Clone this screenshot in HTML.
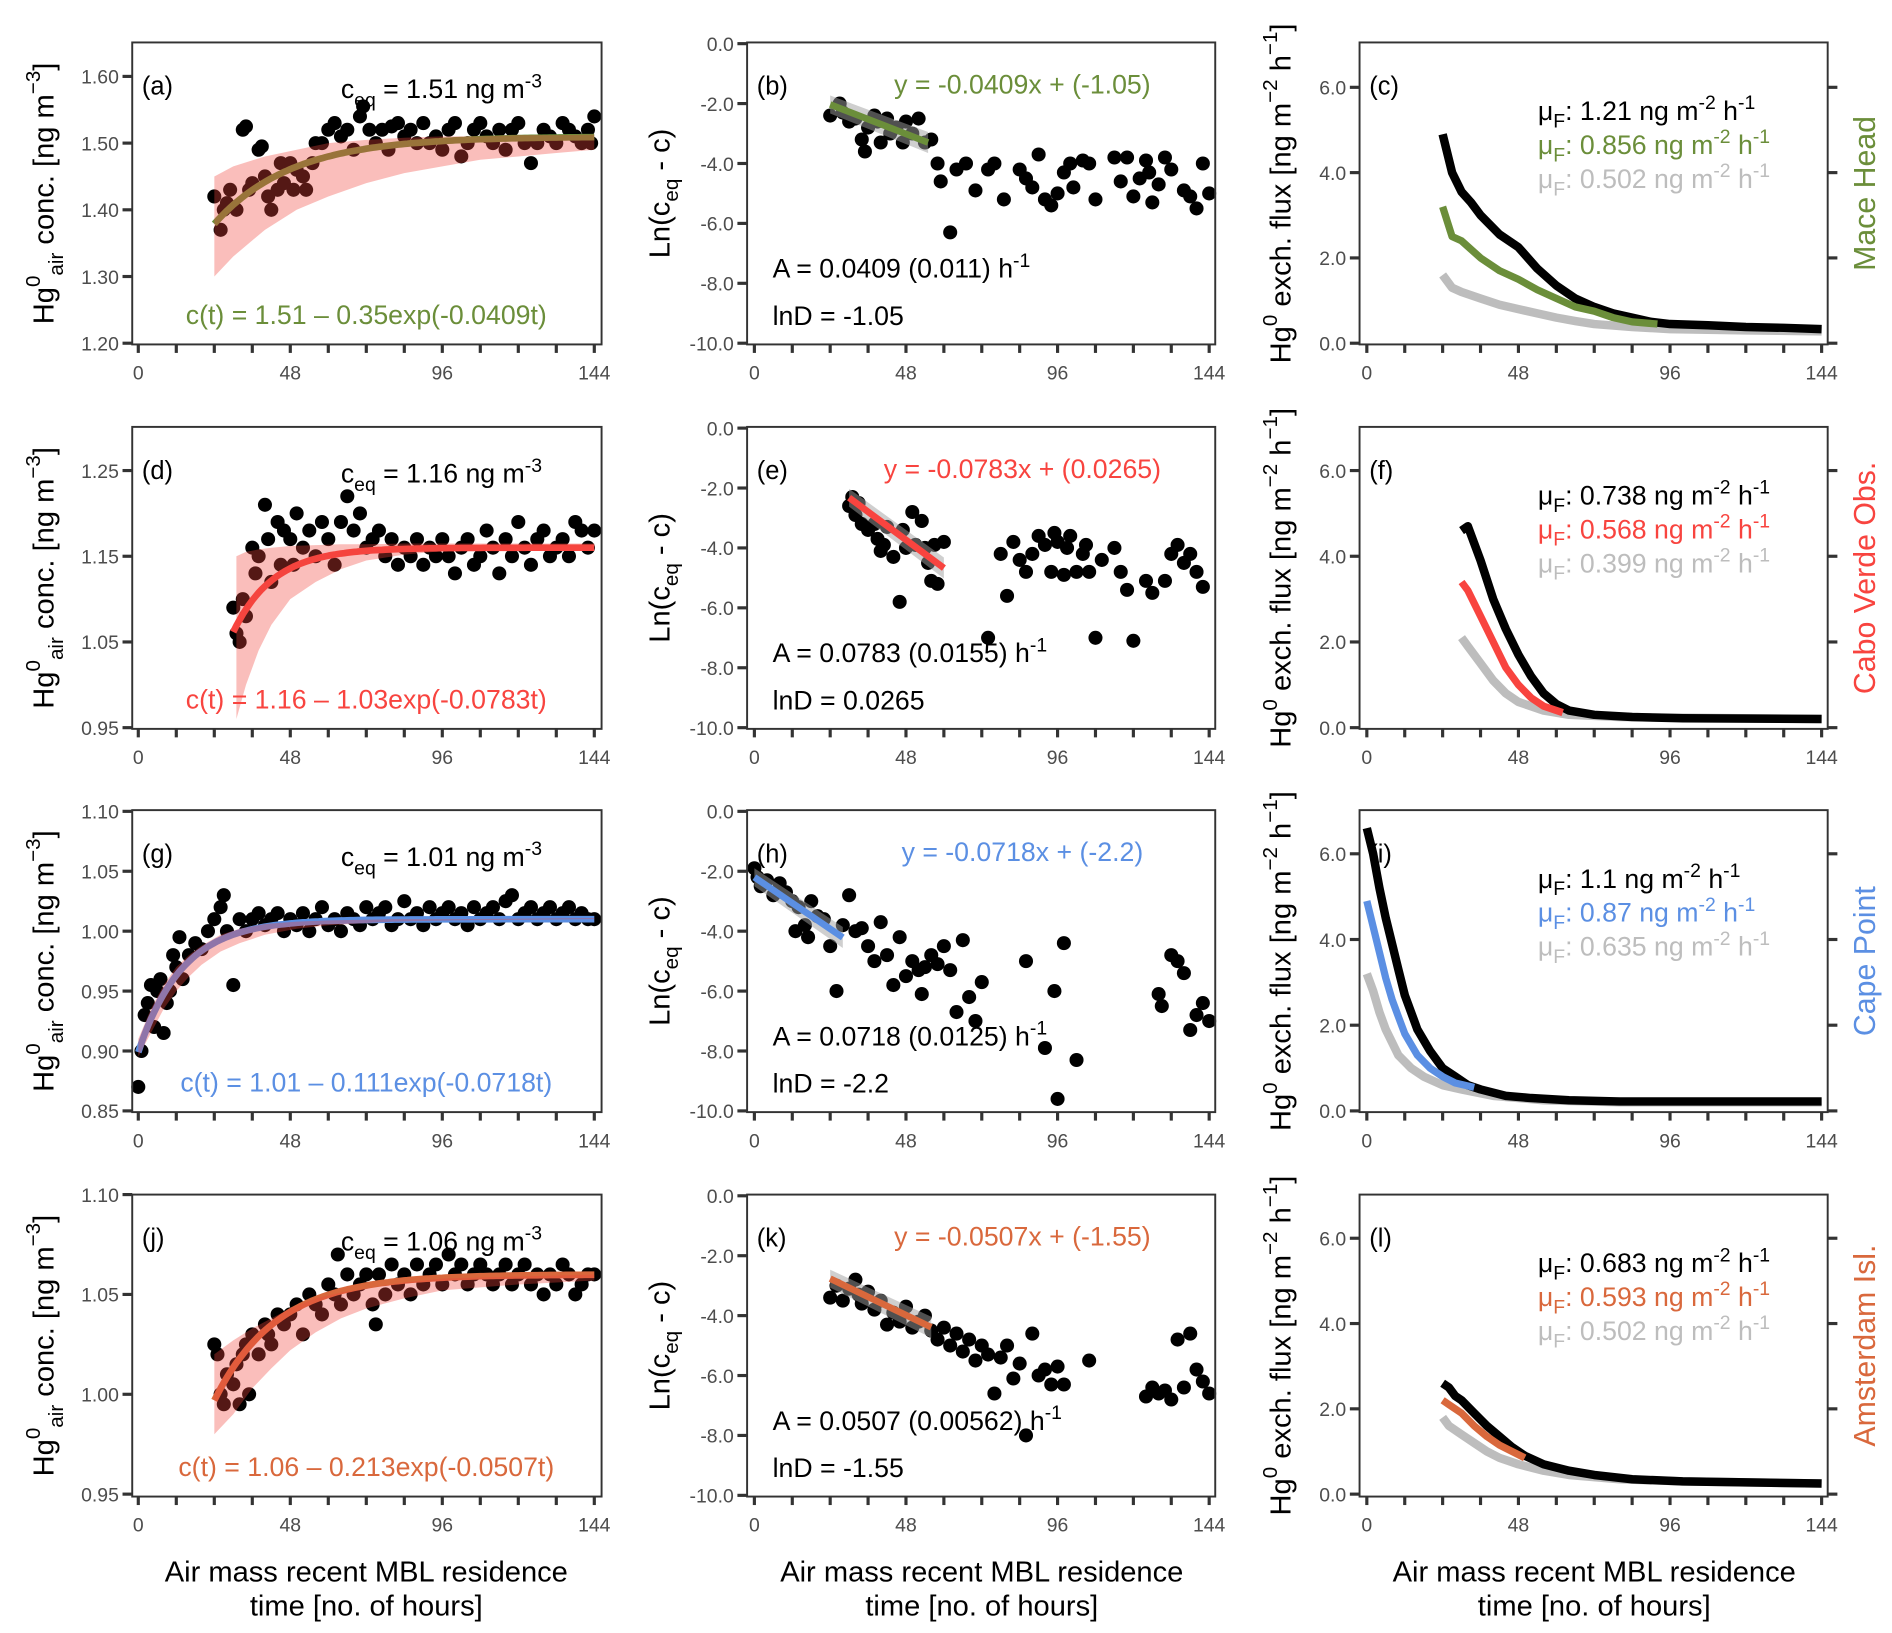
<!DOCTYPE html>
<html><head><meta charset="utf-8"><style>
html,body{margin:0;padding:0;background:#fff;}
svg{display:block;font-family:"Liberation Sans",Arial,sans-serif;}
</style></head><body>
<svg id="fig" xmlns="http://www.w3.org/2000/svg" width="1892" height="1633" viewBox="0 0 1560 1346.5"></svg>
<script>
// ---------- DATA ----------
const xTickLabels = [0,48,96,144];
const concTicks1 = [1.20,1.30,1.40,1.50,1.60];
const concTicks2 = [0.95,1.05,1.15,1.25];
const concTicks3 = [0.85,0.90,0.95,1.00,1.05,1.10];
const concTicks4 = [0.95,1.00,1.05,1.10];
const lnTicks = [0,-2,-4,-6,-8,-10];
const fluxTicks = [0,2,4,6];
const fitCeq = [1.51,1.16,1.01,1.06];
const fitB = [0.35,1.03,0.111,0.213];
const fitA = [0.0409,0.0783,0.0718,0.0507];
const fitLnD = [-1.05,0.0265,-2.2,-1.55];
const fitStart = [24,30,0,24];
const fitEnd = [55,60,28,56];
const siteNames = ["Mace Head","Cabo Verde Obs.","Cape Point","Amsterdam Isl."];

const ptsA = [[24,1.42],[26,1.37],[27,1.40],[28,1.41],[29,1.43],[31,1.40],[33,1.52],[34,1.525],[35,1.43],[36,1.44],[38,1.49],[39,1.495],[40,1.45],[41,1.42],[42,1.40],[44,1.43],[45,1.47],[46,1.44],[48,1.47],[49,1.43],[50,1.46],[52,1.45],[53,1.43],[55,1.47],[56,1.50],[58,1.50],[60,1.52],[62,1.53],[64,1.51],[66,1.52],[68,1.49],[70,1.54],[71,1.555],[73,1.52],[75,1.50],[77,1.52],[79,1.49],[80,1.525],[82,1.53],[84,1.51],[86,1.52],[88,1.50],[90,1.53],[92,1.50],[94,1.51],[96,1.49],[98,1.52],[100,1.53],[102,1.48],[104,1.50],[106,1.52],[108,1.53],[110,1.51],[112,1.50],[114,1.52],[116,1.49],[118,1.52],[120,1.53],[122,1.50],[124,1.47],[126,1.50],[128,1.52],[130,1.51],[132,1.50],[134,1.53],[136,1.52],[138,1.51],[140,1.50],[142,1.52],[144,1.54],[143,1.50]];
const ptsD = [[30,1.09],[31,1.06],[32,1.05],[33,1.10],[34,1.08],[36,1.16],[37,1.13],[38,1.15],[40,1.21],[41,1.17],[42,1.12],[44,1.19],[45,1.14],[46,1.18],[48,1.17],[49,1.14],[50,1.20],[52,1.16],[54,1.18],[56,1.15],[58,1.19],[60,1.17],[62,1.14],[64,1.19],[66,1.22],[68,1.18],[70,1.20],[72,1.16],[74,1.17],[76,1.18],[78,1.15],[80,1.17],[82,1.14],[84,1.16],[86,1.15],[88,1.17],[90,1.14],[92,1.16],[94,1.15],[96,1.17],[98,1.15],[100,1.13],[102,1.16],[104,1.17],[106,1.14],[108,1.15],[110,1.18],[112,1.16],[114,1.13],[116,1.17],[118,1.15],[120,1.19],[122,1.16],[124,1.14],[126,1.17],[128,1.18],[130,1.15],[132,1.16],[134,1.17],[136,1.15],[138,1.19],[140,1.18],[142,1.16],[144,1.18]];
const ptsG = [[0,0.87],[1,0.90],[2,0.93],[3,0.94],[4,0.955],[5,0.92],[6,0.95],[7,0.96],[8,0.915],[9,0.94],[10,0.95],[11,0.98],[12,0.97],[13,0.995],[14,0.96],[16,0.98],[18,0.99],[20,0.985],[22,1.00],[24,1.01],[26,1.02],[27,1.03],[28,1.00],[30,0.955],[32,1.01],[34,1.00],[36,1.01],[38,1.015],[40,1.005],[42,1.01],[44,1.015],[46,1.00],[48,1.01],[50,1.005],[52,1.015],[54,1.00],[56,1.01],[58,1.02],[60,1.005],[62,1.01],[64,1.00],[66,1.015],[68,1.01],[70,1.005],[72,1.02],[74,1.01],[76,1.015],[78,1.02],[80,1.005],[82,1.01],[84,1.025],[86,1.01],[88,1.015],[90,1.005],[92,1.02],[94,1.01],[96,1.015],[98,1.02],[100,1.01],[102,1.015],[104,1.005],[106,1.02],[108,1.01],[110,1.015],[112,1.02],[114,1.01],[116,1.025],[118,1.03],[120,1.01],[122,1.015],[124,1.02],[126,1.01],[128,1.015],[130,1.02],[132,1.01],[134,1.015],[136,1.02],[138,1.01],[140,1.015],[142,1.01],[144,1.01]];
const ptsJ = [[24,1.025],[25,1.02],[26,1.00],[27,0.995],[28,1.01],[30,1.005],[31,1.015],[32,0.995],[33,1.02],[34,1.025],[35,1.00],[36,1.03],[38,1.02],[40,1.035],[41,1.03],[42,1.025],[44,1.04],[46,1.035],[48,1.04],[50,1.045],[52,1.03],[54,1.05],[56,1.045],[58,1.04],[60,1.055],[62,1.05],[63,1.07],[64,1.045],[66,1.06],[68,1.05],[70,1.055],[72,1.06],[74,1.045],[75,1.035],[76,1.06],[78,1.05],[80,1.065],[82,1.055],[84,1.06],[86,1.05],[88,1.065],[90,1.055],[92,1.06],[94,1.065],[96,1.055],[98,1.07],[100,1.06],[102,1.065],[104,1.055],[106,1.06],[108,1.065],[110,1.06],[112,1.055],[114,1.06],[116,1.065],[118,1.055],[120,1.06],[122,1.065],[124,1.055],[126,1.06],[128,1.05],[130,1.06],[132,1.055],[134,1.065],[136,1.06],[138,1.05],[140,1.055],[142,1.06],[144,1.06]];

const ptsB = [[24,-2.4],[27,-2.0],[28,-2.3],[30,-2.6],[32,-2.5],[34,-3.2],[35,-3.6],[36,-2.8],[38,-2.4],[39,-2.6],[40,-3.3],[42,-2.5],[43,-3.0],[45,-2.8],[47,-3.3],[48,-2.6],[50,-3.0],[52,-2.5],[54,-3.3],[56,-3.2],[58,-4.0],[59,-4.6],[62,-6.3],[64,-4.2],[67,-4.0],[70,-4.9],[74,-4.2],[76,-4.0],[79,-5.2],[84,-4.2],[86,-4.5],[88,-4.8],[90,-3.7],[92,-5.2],[94,-5.4],[96,-5.0],[98,-4.3],[100,-4.0],[101,-4.8],[104,-3.9],[106,-4.0],[108,-5.2],[114,-3.8],[116,-4.6],[118,-3.8],[120,-5.1],[122,-4.5],[124,-3.9],[125,-4.3],[126,-5.3],[128,-4.7],[130,-3.8],[132,-4.2],[136,-4.9],[138,-5.1],[140,-5.5],[142,-4.0],[144,-5.0]];
const ptsE = [[30,-2.6],[31,-2.3],[32,-2.9],[33,-2.5],[34,-3.2],[36,-3.4],[38,-3.2],[39,-3.7],[40,-4.1],[41,-3.9],[42,-3.3],[44,-4.3],[46,-5.8],[47,-3.4],[48,-4.0],[50,-2.8],[51,-3.9],[53,-3.1],[54,-4.0],[55,-4.5],[56,-5.1],[57,-3.9],[58,-5.2],[60,-3.8],[74,-7.0],[78,-4.2],[80,-5.6],[82,-3.8],[84,-4.4],[86,-4.8],[88,-4.2],[90,-3.6],[92,-3.9],[94,-4.8],[95,-3.5],[96,-3.8],[98,-4.9],[99,-4.0],[100,-3.6],[102,-4.8],[104,-4.2],[105,-3.9],[106,-4.8],[108,-7.0],[110,-4.4],[114,-4.0],[116,-4.8],[118,-5.4],[120,-7.1],[124,-5.1],[126,-5.5],[130,-5.1],[132,-4.2],[134,-3.9],[136,-4.5],[138,-4.2],[140,-4.8],[142,-5.3]];
const ptsH = [[0,-1.9],[1,-2.2],[2,-2.5],[4,-2.3],[6,-2.8],[8,-2.4],[10,-2.7],[12,-3.0],[13,-4.0],[14,-3.2],[16,-3.8],[17,-4.2],[18,-3.0],[20,-3.5],[22,-3.6],[24,-4.5],[26,-6.0],[28,-3.8],[30,-2.8],[32,-4.0],[34,-3.9],[36,-4.5],[38,-5.0],[40,-3.7],[42,-4.8],[44,-5.8],[46,-4.2],[48,-5.5],[50,-5.0],[52,-5.3],[53,-6.1],[54,-5.2],[56,-4.8],[58,-5.1],[60,-4.5],[62,-5.3],[64,-6.7],[66,-4.3],[68,-6.2],[70,-7.0],[72,-5.7],[86,-5.0],[92,-7.9],[95,-6.0],[96,-9.6],[98,-4.4],[102,-8.3],[128,-6.1],[129,-6.5],[132,-4.8],[134,-5.0],[136,-5.4],[138,-7.3],[140,-6.8],[142,-6.4],[144,-7.0]];
const ptsK = [[24,-3.4],[26,-3.0],[28,-3.5],[30,-3.1],[32,-2.8],[33,-3.3],[34,-3.6],[36,-3.2],[38,-3.8],[40,-3.5],[42,-4.3],[44,-3.9],[46,-4.2],[48,-3.7],[50,-4.4],[52,-4.2],[54,-4.0],[56,-4.5],[58,-4.8],[60,-4.4],[62,-5.0],[64,-4.6],[66,-5.2],[68,-4.8],[70,-5.5],[72,-5.0],[74,-5.3],[76,-6.6],[78,-5.4],[80,-5.0],[82,-6.1],[84,-5.6],[86,-8.0],[88,-4.6],[90,-6.0],[92,-5.8],[94,-6.3],[96,-5.7],[98,-6.3],[106,-5.5],[124,-6.7],[126,-6.4],[128,-6.6],[130,-6.5],[132,-6.8],[134,-4.8],[136,-6.4],[138,-4.6],[140,-5.8],[142,-6.2],[144,-6.6]];

// ribbons (x, lower, upper)
const ribAx = [24,30,40,50,60,72,84,96,108,120,132,144];
const ribAlo = [1.30,1.33,1.37,1.40,1.42,1.44,1.455,1.465,1.475,1.48,1.485,1.49];
const ribAhi = [1.45,1.465,1.48,1.49,1.50,1.505,1.508,1.51,1.51,1.512,1.512,1.513];
const ribDx = [31,34,38,42,48,56,64,72,84,96,120,144];
const ribDlo = [0.96,1.00,1.04,1.07,1.10,1.12,1.135,1.145,1.152,1.156,1.16,1.161];
const ribDhi = [1.15,1.155,1.158,1.16,1.162,1.163,1.164,1.164,1.165,1.165,1.165,1.165];
const ribGx = [0,4,8,12,16,20,26,32,40,50,60,80,100,144];
const ribGlo = [0.895,0.915,0.935,0.95,0.962,0.972,0.983,0.99,0.997,1.002,1.005,1.008,1.009,1.01];
const ribGhi = [0.91,0.935,0.955,0.97,0.98,0.988,0.997,1.002,1.006,1.008,1.009,1.01,1.01,1.011];
const ribJx = [24,30,36,42,48,56,64,72,84,96,120,144];
const ribJlo = [0.98,0.99,1.003,1.013,1.022,1.031,1.038,1.043,1.048,1.052,1.055,1.057];
const ribJhi = [1.02,1.027,1.033,1.038,1.043,1.048,1.051,1.053,1.056,1.058,1.059,1.06];

// flux curves
const fluxCx = [24,27,30,33,36,42,48,54,60,66,72,78,84,90,96,108,120,132,144];
const fluxCblack = [4.9,4.0,3.55,3.3,3.0,2.55,2.25,1.75,1.35,1.05,0.85,0.7,0.6,0.5,0.45,0.42,0.38,0.36,0.33];
const fluxCsiteX = [24,27,30,36,42,48,54,60,66,72,78,84,92];
const fluxCsite = [3.2,2.5,2.4,2.0,1.7,1.5,1.25,1.05,0.85,0.75,0.6,0.5,0.45];
const fluxCgreyX = [24,27,30,36,42,48,54,60,66,72,84,96,120,144];
const fluxCgrey = [1.6,1.3,1.2,1.05,0.9,0.8,0.7,0.6,0.52,0.45,0.38,0.33,0.3,0.28];
const fluxFx = [30,32,36,40,44,48,52,56,60,64,72,84,100,144];
const fluxFblack = [4.6,4.7,3.9,3.0,2.3,1.7,1.2,0.8,0.55,0.4,0.3,0.25,0.22,0.2];
const fluxFsiteX = [30,32,36,40,44,48,52,56,62];
const fluxFsite = [3.4,3.2,2.6,2.0,1.4,1.0,0.7,0.5,0.35];
const fluxFgreyX = [30,32,36,40,44,48,56,64,80,144];
const fluxFgrey = [2.1,1.9,1.5,1.1,0.8,0.6,0.4,0.3,0.25,0.2];
const fluxIx = [0,2,4,6,8,10,12,14,16,20,24,28,32,36,44,52,64,80,144];
const fluxIblack = [6.6,6.0,5.2,4.5,3.9,3.3,2.7,2.3,1.9,1.4,1.0,0.8,0.6,0.5,0.35,0.3,0.25,0.22,0.22];
const fluxIsiteX = [0,2,4,6,8,10,12,16,20,24,28,34];
const fluxIsite = [4.9,4.3,3.7,3.1,2.6,2.2,1.8,1.3,1.0,0.8,0.65,0.55];
const fluxIgreyX = [0,2,4,6,8,10,14,18,24,30,40,56,80,144];
const fluxIgrey = [3.2,2.8,2.3,1.9,1.6,1.3,1.0,0.8,0.6,0.5,0.35,0.25,0.2,0.2];
const fluxLx = [24,26,28,30,34,38,42,46,50,56,64,72,84,100,144];
const fluxLblack = [2.6,2.5,2.3,2.2,1.9,1.6,1.35,1.1,0.9,0.7,0.55,0.45,0.35,0.3,0.25];
const fluxLsiteX = [24,26,30,34,38,42,46,50];
const fluxLsite = [2.2,2.1,1.9,1.6,1.35,1.15,1.0,0.85];
const fluxLgreyX = [24,26,30,34,38,42,48,56,64,80,100,144];
const fluxLgrey = [1.8,1.6,1.4,1.2,1.0,0.85,0.7,0.55,0.45,0.35,0.3,0.25];

const muBlack = ["1.21","0.738","1.1","0.683"];
const muSite = ["0.856","0.568","0.87","0.593"];
const muGrey = ["0.502","0.399","0.635","0.502"];
const seA = ["(0.011)","(0.0155)","(0.0125)","(0.00562)"];

// ---------- LAYOUT ----------
const NS = "http://www.w3.org/2000/svg";
const svg = document.getElementById('fig');
const siteCol = ["#6b8e3a","#f8443f","#5b8fe3","#d9683c"];
const rowTop = [35,352,668,985];
const rowH = 249;
const colL = [109,616,1121], colR = [496,1002,1507];
const x0px = [114,622,1127], x144px = [490,997,1502];
const concMap = [[1.20,283,1.60,63],[0.95,600,1.25,388],[0.85,916,1.10,669],[0.95,1232,1.10,985]];
const concTickSets = [concTicks1,concTicks2,concTicks3,concTicks4];
const letters = [["a","b","c"],["d","e","f"],["g","h","i"],["j","k","l"]];
const fluxSets = [
 [fluxCx,fluxCblack,fluxCsiteX,fluxCsite,fluxCgreyX,fluxCgrey],
 [fluxFx,fluxFblack,fluxFsiteX,fluxFsite,fluxFgreyX,fluxFgrey],
 [fluxIx,fluxIblack,fluxIsiteX,fluxIsite,fluxIgreyX,fluxIgrey],
 [fluxLx,fluxLblack,fluxLsiteX,fluxLsite,fluxLgreyX,fluxLgrey]];
const ptsConc = [ptsA,ptsD,ptsG,ptsJ];
const ptsLn = [ptsB,ptsE,ptsH,ptsK];
const ribs = [[ribAx,ribAlo,ribAhi],[ribDx,ribDlo,ribDhi],[ribGx,ribGlo,ribGhi],[ribJx,ribJlo,ribJhi]];

function mk(tag, attrs, parent){
  const e = document.createElementNS(NS, tag);
  for (const k in attrs) e.setAttribute(k, attrs[k]);
  (parent||svg).appendChild(e);
  return e;
}
function xs(c, v){ return x0px[c] + (x144px[c]-x0px[c]) * v/144; }
function linMap(v1,p1,v2,p2){ return v => p1 + (v-v1)*(p2-p1)/(v2-v1); }

function axes(g, c, r, ys, ticks, fmt, right){
  const top = rowTop[r], bot = top+rowH;
  const box = mk('rect',{x:colL[c],y:top,width:colR[c]-colL[c],height:rowH,fill:'none',stroke:'#333',"stroke-width":1.6},g);
  
  
  for (let h=0; h<=144; h+=12){
    const t = mk('line',{x1:xs(c,h),x2:xs(c,h),y1:bot,y2:bot+7,stroke:'#333',"stroke-width":2.6},g);
    
    
  }
  xTickLabels.forEach(v=>{
    const t = mk('text',{x:xs(c,v),y:bot+29,"text-anchor":"middle","font-size":16,fill:'#4d4d4d'},g);
    t.textContent = v;
    
    
  });
  ticks.forEach(v=>{
    const y = ys(v);
    const t = mk('line',{x1:colL[c]-8,x2:colL[c],y1:y,y2:y,stroke:'#333',"stroke-width":2.6},g);
    
    
    const l = mk('text',{x:colL[c]-11,y:y+6,"text-anchor":"end","font-size":16,fill:'#4d4d4d'},g);
    l.textContent = fmt(v);
    
    
    if (right){
      const rt = mk('line',{x1:colR[c],x2:colR[c]+8,y1:y,y2:y,stroke:'#333',"stroke-width":2.6},g);
      
      
    }
  });
}
function txt(g, x, y, html, attrs, name){
  const t = mk('text', Object.assign({x:x,y:y,"font-size":22,fill:'#000'}, attrs||{}), g);
  t.innerHTML = html;
  
  
  return t;
}
function polyline(g, pts, color, w, name){
  const p = mk('polyline',{points:pts.map(p=>p[0].toFixed(1)+','+p[1].toFixed(1)).join(' '),fill:'none',stroke:color,"stroke-width":w,"stroke-linejoin":"round","stroke-linecap":"butt"},g);
  
  
  return p;
}

for (let r=0; r<4; r++){
  const top = rowTop[r], bot = top+rowH, col = siteCol[r];
  // ---- column 1: concentration ----
  const g1 = mk('g',{});
  
  
  const m = concMap[r];
  const ys1 = linMap(m[0],m[1],m[2],m[3]);
  ptsConc[r].forEach(p=>{
    const d = mk('circle',{cx:xs(0,p[0]),cy:ys1(p[1]),r:5.8,fill:'#000'},g1);
    
    
  });
  const fit = [];
  for (let t=fitStart[r]; t<=144.001; t+=1) fit.push([xs(0,t), ys1(fitCeq[r]-fitB[r]*Math.exp(-fitA[r]*t))]);
  polyline(g1, fit, col, 5.5, 'fit-curve');
  const rb = ribs[r];
  const rpts = rb[0].map((x,i)=>[xs(0,x),ys1(rb[2][i])]).concat(rb[0].map((x,i)=>[xs(0,x),ys1(rb[1][i])]).reverse());
  const rib = mk('polygon',{points:rpts.map(p=>p[0].toFixed(1)+','+p[1].toFixed(1)).join(' '),fill:'rgba(242,70,60,0.35)'},g1);
  
  
  axes(g1,0,r,ys1,concTickSets[r],v=>v.toFixed(2),false);
  txt(g1, 117, top+43, '('+letters[r][0]+')', {"font-size":21}, 'panel-label');
  txt(g1, 281, top+46, 'c<tspan dy="7" font-size="16">eq</tspan><tspan dy="-7"> = '+fitCeq[r].toFixed(2)+' ng m</tspan><tspan dy="-9" font-size="16">-3</tspan>', {}, 'ceq-annotation');
  txt(g1, 302, top+232, 'c(t) = '+fitCeq[r].toFixed(2)+' \u2013 '+fitB[r]+'exp(-'+fitA[r]+'t)', {"text-anchor":"middle",fill:col}, 'fit-equation');
  txt(g1, 0, 0, 'Hg<tspan dy="-11" font-size="17">0</tspan><tspan dy="19" font-size="17">air</tspan><tspan dy="-8"> conc. [ng m</tspan><tspan dy="-11" font-size="17">\u22123</tspan><tspan dy="11">]</tspan>', {"font-size":24,"text-anchor":"middle",transform:'translate(44,'+(top+rowH/2)+') rotate(-90)'}, 'y-axis-title');

  // ---- column 2: log ----
  const g2 = mk('g',{});
  
  
  const ys2 = linMap(0,top+1,-10,bot-1);
  ptsLn[r].forEach(p=>{
    const d = mk('circle',{cx:xs(1,p[0]),cy:ys2(p[1]),r:5.8,fill:'#000'},g2);
    
    
  });
  const xa = fitStart[r], xb = fitEnd[r];
  const la = -fitA[r]*xa+fitLnD[r], lb = -fitA[r]*xb+fitLnD[r];
  const se = mk('polygon',{points:[[xs(1,xa),ys2(la+0.3)],[xs(1,xb),ys2(lb+0.35)],[xs(1,xb),ys2(lb-0.35)],[xs(1,xa),ys2(la-0.3)]].map(p=>p.join(',')).join(' '),fill:'rgba(160,160,160,0.5)'},g2);
  
  
  polyline(g2, [[xs(1,xa),ys2(la)],[xs(1,xb),ys2(lb)]], col, 5.5, 'linear-fit');
  axes(g2,1,r,ys2,lnTicks,v=>v.toFixed(1),false);
  txt(g2, 624, top+43, '('+letters[r][1]+')', {"font-size":21}, 'panel-label');
  txt(g2, 843, top+42, 'y = -'+fitA[r]+'x + ('+fitLnD[r]+')', {"text-anchor":"middle",fill:col}, 'regression-equation');
  txt(g2, 637, top+194, 'A = '+fitA[r]+' '+seA[r]+' h<tspan dy="-9" font-size="16">-1</tspan>', {}, 'rate-annotation');
  txt(g2, 637, top+233, 'lnD = '+fitLnD[r], {}, 'lnD-annotation');
  txt(g2, 0, 0, 'Ln(c<tspan dy="7" font-size="17">eq</tspan><tspan dy="-7"> - c)</tspan>', {"font-size":24,"text-anchor":"middle",transform:'translate(552,'+(top+rowH/2)+') rotate(-90)'}, 'y-axis-title');

  // ---- column 3: flux ----
  const g3 = mk('g',{});
  
  
  const fm = [[283,72],[600,388],[916,704],[1232,1021]][r];
  const ys3 = linMap(0,fm[0],6,fm[1]);
  const fs = fluxSets[r];
  polyline(g3, fs[4].map((x,i)=>[xs(2,x),ys3(fs[5][i])]), '#bdbdbd', 7, 'flux-line-grey');
  polyline(g3, fs[0].map((x,i)=>[xs(2,x),ys3(fs[1][i])]), '#000', 7, 'flux-line-black');
  polyline(g3, fs[2].map((x,i)=>[xs(2,x),ys3(fs[3][i])]), col, 6, 'flux-line-site');
  axes(g3,2,r,ys3,fluxTicks,v=>v.toFixed(1),true);
  txt(g3, 1129, top+43, '('+letters[r][2]+')', {"font-size":21}, 'panel-label');
  const mu = (v,c,y,n)=>txt(g3, 1268, top+y, '\u03bc<tspan dy="6" font-size="16">F</tspan><tspan dy="-6">: '+v+' ng m</tspan><tspan dy="-9" font-size="16">-2</tspan><tspan dy="9"> h</tspan><tspan dy="-9" font-size="16">-1</tspan>', {fill:c}, n);
  mu(muBlack[r], '#000', 64, 'mu-annotation-total');
  mu(muSite[r], col, 92, 'mu-annotation-site');
  mu(muGrey[r], '#bdbdbd', 120, 'mu-annotation-grey');
  txt(g3, 0, 0, siteNames[r], {"font-size":25,fill:col,"text-anchor":"middle",transform:'translate(1546,'+(top+rowH/2)+') rotate(-90)'}, 'site-label');
  txt(g3, 0, 0, 'Hg<tspan dy="-11" font-size="17">0</tspan><tspan dy="11"> exch. flux [ng m</tspan><tspan dy="-11" font-size="17">\u22122</tspan><tspan dy="11"> h</tspan><tspan dy="-11" font-size="17">\u22121</tspan><tspan dy="11">]</tspan>', {"font-size":24,"text-anchor":"middle",transform:'translate(1064,'+(top+rowH/2)+') rotate(-90)'}, 'y-axis-title');
}
// x-axis titles
[0,1,2].forEach(c=>{
  const cx = (x0px[c]+x144px[c])/2;
  txt(svg, cx, 1304, 'Air mass recent MBL residence', {"font-size":24,"text-anchor":"middle"}, 'x-axis-title');
  txt(svg, cx, 1332, 'time [no. of hours]', {"font-size":24,"text-anchor":"middle"}, 'x-axis-title-line2');
});
</script>
</body></html>
